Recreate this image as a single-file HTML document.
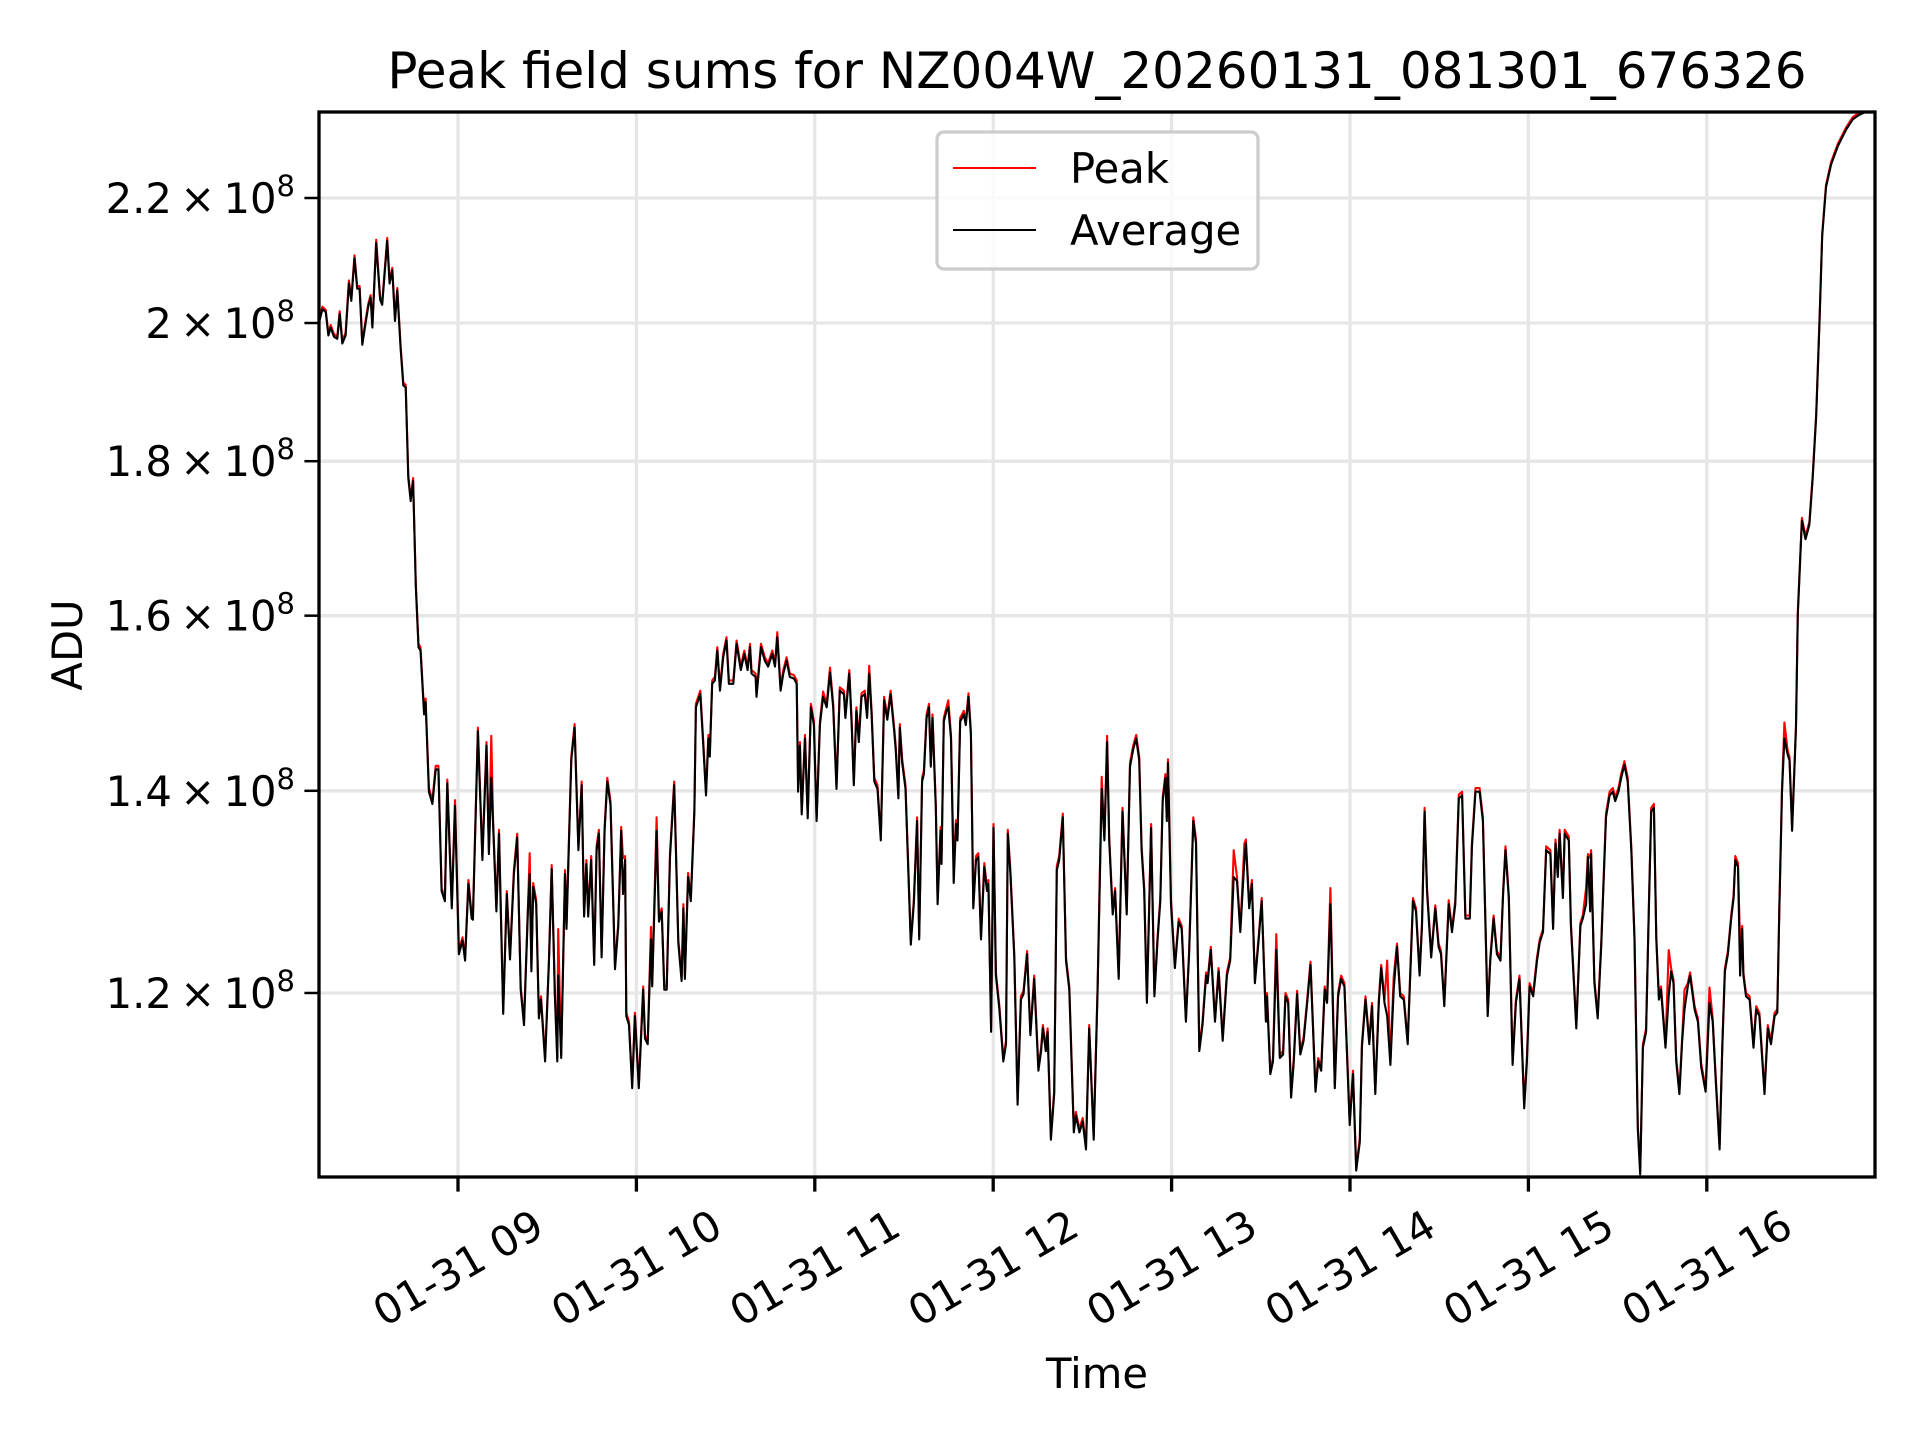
<!DOCTYPE html>
<html><head><meta charset="utf-8"><title>Peak field sums</title>
<style>html,body{margin:0;padding:0;background:#fff}svg{display:block}text{font-family:"DejaVu Sans","Liberation Sans",sans-serif;fill:#000}</style>
</head><body>
<svg id="chart" width="1920" height="1440" viewBox="0 0 1920 1440" xmlns="http://www.w3.org/2000/svg">
<rect width="1920" height="1440" fill="#fff"/>
<defs><clipPath id="plotclip"><rect x="319" y="112" width="1556" height="1065"/></clipPath></defs>
<g id="grid"></g>
<g id="series" clip-path="url(#plotclip)"></g>
<rect x="319" y="112" width="1556" height="1065" fill="none" stroke="#000" stroke-width="3.3"/>
<g id="ticks"></g>
<text x="1097" y="88" font-size="50" text-anchor="middle">Peak field sums for NZ004W_20260131_081301_676326</text>
<text x="1097" y="1388" font-size="41.7" text-anchor="middle">Time</text>
<text x="0" y="0" font-size="41.7" text-anchor="middle" transform="translate(82,645) rotate(-90)">ADU</text>
<g>
<rect x="937" y="132" width="321" height="137" rx="7" fill="#fff" fill-opacity="0.8" stroke="#cccccc" stroke-width="3.3"/>
<line x1="953" y1="168" x2="1036" y2="168" stroke="#ff0000" stroke-width="2.1"/>
<text x="1070" y="183" font-size="41.7">Peak</text>
<line x1="953" y1="230" x2="1036" y2="230" stroke="#000" stroke-width="2.1"/>
<text x="1070" y="245" font-size="41.7">Average</text>
</g>
</svg>
<script>
// time in minutes after 08:00 on 01-31
const timesMin = [13.3,14.4,15.5,16.4,17.2,18.3,19.4,20.2,21.1,22.2,23.3,24.1,25.2,26.1,26.9,27.8,28.9,29.8,30.6,31.2,32.5,33.8,34.5,36.2,37.0,37.9,38.8,39.6,40.7,41.6,42.4,43.3,44.1,44.9,45.8,46.7,47.4,48.6,49.1,50.2,51.4,52.5,53.4,54.5,55.6,56.4,57.9,59.0,60.3,61.5,62.4,63.5,64.6,65.0,66.7,68.2,69.6,70.4,71.2,71.8,72.9,73.8,75.2,76.4,77.5,78.8,79.9,81.1,82.2,83.5,84.1,84.7,85.3,86.3,87.2,87.9,89.3,90.6,91.5,92.6,93.4,93.7,94.7,96.0,96.5,98.1,99.2,100.5,101.6,102.4,103.2,103.8,104.8,105.8,106.6,107.4,108.3,109.3,110.2,111.3,112.8,113.9,114.9,115.5,116.2,116.6,117.5,118.6,
119.5,120.8,122.3,122.9,123.8,124.9,125.3,126.8,127.6,128.5,129.4,130.2,131.3,132.7,134.1,135.2,135.8,136.3,137.4,138.3,139.5,140.0,141.5,142.5,143.4,144.2,144.7,145.5,146.4,147.2,148.1,149.2,150.3,151.1,152.6,153.7,155.1,156.3,157.4,158.2,158.7,160.1,160.4,161.9,163.2,164.3,165.7,166.6,167.4,168.5,169.4,170.5,171.6,173.0,173.9,174.4,175.0,175.6,176.7,177.6,178.7,179.7,180.6,181.7,182.8,184.0,185.1,186.2,187.3,188.4,189.8,190.3,191.6,192.4,193.1,194.0,194.8,195.7,196.8,197.6,198.3,199.1,200.0,201.1,202.2,203.3,204.4,205.5,206.7,207.2,208.1,208.6,209.4,210.5,211.2,212.3,213.3,214.4,215.1,216.1,216.7,217.6,218.4,219.0,219.6,220.7,221.3,222.3,222.6,223.4,224.3,224.9,
225.8,226.7,227.5,228.0,228.9,230.1,230.8,231.7,232.5,233.3,234.2,235.0,235.9,237.0,237.9,238.4,239.3,240.1,240.9,242.1,243.4,244.3,244.9,245.8,247.1,248.2,249.3,250.2,251.4,252.5,253.8,255.2,256.1,256.7,257.7,258.3,259.4,260.5,261.4,262.2,263.4,264.5,265.6,267.1,267.8,269.0,270.1,271.2,272.3,273.8,275.1,276.5,277.4,278.3,279.0,280.2,281.0,282.2,283.5,284.9,286.0,287.1,288.1,289.1,289.9,290.8,291.7,293.1,294.2,295.3,296.2,297.0,297.9,298.4,298.8,299.8,301.1,302.4,303.4,304.8,305.9,307.3,308.2,309.3,310.4,311.6,312.1,313.2,314.6,315.8,317.2,318.6,319.7,320.9,322.0,323.1,324.5,325.0,326.1,327.0,328.0,329.3,330.3,331.7,
332.1,333.2,334.1,335.2,336.4,337.5,338.3,339.2,340.2,341.1,342.2,343.3,344.4,345.6,346.7,348.4,349.3,350.3,351.5,352.3,353.4,354.9,356.0,357.0,358.1,359.9,361.0,362.1,363.3,364.0,365.2,366.5,367.4,368.5,369.7,370.5,371.6,372.5,373.6,374.7,375.8,376.9,378.1,379.4,381.2,382.2,383.4,384.2,385.1,385.9,387.3,388.7,389.8,390.6,391.7,393.2,394.3,395.4,396.6,397.7,398.8,400.3,401.0,402.2,403.6,404.7,406.3,407.2,408.3,409.4,410.6,411.5,412.3,413.4,414.7,415.8,417.0,418.6,419.5,420.4,421.6,422.9,423.8,424.9,426.0,427.4,428.3,429.1,429.9,430.5,431.6,432.2,433.6,434.3,436.1,437.5,
438.3,439.4,440.0,440.8,441.1,442.2,443.3,444.5,446.1,447.3,448.4,449.2,450.3,451.2,452.3,453.4,454.6,455.7,456.8,457.6,458.5,459.6,460.5,461.3,462.2,463.0,463.9,464.6,466.1,467.2,468.0,468.8,469.7,470.8,471.7,472.5,473.6,474.4,475.9,477.0,478.1,479.6,480.9,482.0,482.9,484.3,485.2,486.1,487.1,488.2,489.0,489.6,490.5,491.2,491.9,492.3,493.2,494.4,495.7,496.6,497.7,499.4,500.5,501.6,502.8,503.7,504.4,505.3,506.1,507.2,507.8,508.7,510.0,510.6,512.0,513.2,514.5,515.6,516.8,517.9,518.8,520.1,521.8,524.1,526.9,529.1,531.3,535.8];
// average ADU in units of 1e8
const averageVals = [2.001,2.021,2.017,1.981,1.993,1.979,1.976,2.014,1.969,1.981,2.061,2.034,2.101,2.053,2.053,1.967,1.999,2.025,2.039,1.993,2.126,2.036,2.028,2.129,2.061,2.082,2.003,2.050,1.962,1.907,1.904,1.777,1.746,1.773,1.636,1.562,1.558,1.484,1.498,1.399,1.386,1.423,1.423,1.297,1.287,1.408,1.280,1.384,1.236,1.249,1.230,1.304,1.270,1.269,1.465,1.328,1.449,1.334,1.414,1.365,1.277,1.355,1.181,1.294,1.231,1.314,1.351,1.203,1.171,1.277,1.314,1.220,1.301,1.284,1.177,1.194,1.139,1.230,1.319,1.197,1.139,1.216,1.142,1.314,1.260,1.433,1.469,1.338,1.406,1.272,1.324,1.272,1.328,1.226,1.338,1.355,1.233,1.358,1.410,1.385,1.222,1.263,1.358,1.294,1.328,1.179,1.171,1.116,
1.179,1.116,1.203,1.159,1.154,1.250,1.206,1.358,1.267,1.277,1.203,1.203,1.331,1.406,1.247,1.211,1.280,1.213,1.311,1.287,1.378,1.492,1.507,1.449,1.395,1.457,1.437,1.519,1.523,1.558,1.511,1.550,1.570,1.519,1.519,1.566,1.535,1.554,1.535,1.562,1.531,1.527,1.504,1.562,1.546,1.539,1.554,1.539,1.574,1.511,1.531,1.546,1.527,1.525,1.519,1.399,1.449,1.375,1.457,1.371,1.492,1.472,1.368,1.472,1.504,1.492,1.532,1.492,1.402,1.511,1.507,1.480,1.531,1.472,1.406,1.488,1.453,1.504,1.507,1.480,1.531,1.484,1.410,1.402,1.348,1.500,1.478,1.507,1.465,1.445,1.392,1.469,1.430,1.402,1.338,1.245,1.284,1.368,1.250,1.410,1.418,1.480,1.492,1.426,1.480,1.382,1.284,1.358,1.324,1.476,1.488,1.492,
1.457,1.305,1.365,1.348,1.476,1.484,1.472,1.504,1.461,1.280,1.328,1.331,1.250,1.321,1.297,1.304,1.165,1.361,1.216,1.185,1.139,1.154,1.355,1.314,1.233,1.102,1.194,1.199,1.236,1.162,1.213,1.131,1.148,1.168,1.148,1.165,1.073,1.111,1.318,1.328,1.372,1.230,1.203,1.079,1.093,1.079,1.088,1.065,1.168,1.073,1.203,1.402,1.348,1.453,1.348,1.274,1.297,1.213,1.378,1.274,1.426,1.445,1.457,1.433,1.338,1.297,1.191,1.361,1.197,1.250,1.287,1.389,1.414,1.368,1.430,1.284,1.223,1.267,1.260,1.174,1.236,1.368,1.345,1.148,1.171,1.216,1.209,1.240,1.174,1.220,1.157,1.216,1.230,1.311,1.307,1.257,1.328,1.345,1.280,1.304,1.209,1.250,1.287,1.174,
1.197,1.128,1.139,1.240,1.142,1.145,1.197,1.191,1.108,1.139,1.199,1.145,1.157,1.191,1.226,1.113,1.139,1.131,1.203,1.191,1.284,1.116,1.197,1.213,1.206,1.085,1.128,1.048,1.071,1.151,1.194,1.154,1.188,1.111,1.191,1.223,1.191,1.179,1.136,1.203,1.243,1.197,1.194,1.154,1.287,1.277,1.216,1.263,1.378,1.297,1.233,1.280,1.243,1.236,1.188,1.284,1.257,1.284,1.392,1.395,1.270,1.270,1.341,1.399,1.399,1.368,1.179,1.230,1.270,1.236,1.230,1.294,1.338,1.290,1.136,1.191,1.213,1.099,1.139,1.206,1.197,1.230,1.247,1.257,1.338,1.334,1.260,1.345,1.311,1.355,1.290,1.355,1.348,1.263,1.168,1.263,
1.270,1.284,1.331,1.277,1.334,1.209,1.177,1.243,1.372,1.395,1.399,1.389,1.399,1.414,1.428,1.410,1.338,1.250,1.082,1.045,1.151,1.165,1.277,1.378,1.382,1.250,1.194,1.203,1.151,1.197,1.220,1.209,1.139,1.111,1.156,1.185,1.206,1.216,1.185,1.174,1.134,1.113,1.191,1.174,1.128,1.065,1.151,1.220,1.236,1.270,1.290,1.328,1.321,1.216,1.260,1.216,1.197,1.194,1.151,1.185,1.179,1.111,1.168,1.154,1.179,1.182,1.277,1.399,1.457,1.439,1.433,1.358,1.469,1.601,1.720,1.696,1.715,1.777,1.863,2.001,2.137,2.218,2.257,2.289,2.318,2.336,2.344,2.355];
// peak ADU in units of 1e8
const peakVals = [2.005,2.025,2.020,1.985,1.997,1.983,1.980,2.018,1.973,1.985,2.066,2.038,2.106,2.057,2.057,1.971,2.003,2.029,2.043,1.997,2.131,2.040,2.032,2.134,2.065,2.086,2.007,2.054,1.966,1.911,1.908,1.781,1.750,1.777,1.640,1.566,1.562,1.488,1.502,1.403,1.390,1.427,1.427,1.300,1.290,1.412,1.283,1.390,1.239,1.252,1.233,1.308,1.273,1.272,1.469,1.332,1.453,1.338,1.460,1.368,1.280,1.359,1.184,1.297,1.234,1.318,1.355,1.206,1.174,1.281,1.335,1.223,1.305,1.288,1.180,1.197,1.142,1.233,1.323,1.200,1.142,1.260,1.145,1.318,1.264,1.437,1.473,1.342,1.410,1.275,1.328,1.275,1.332,1.229,1.342,1.359,1.236,1.362,1.414,1.389,1.225,1.266,1.362,1.330,1.332,1.182,1.174,1.119,
1.182,1.119,1.206,1.162,1.157,1.262,1.209,1.372,1.270,1.280,1.206,1.206,1.335,1.410,1.250,1.214,1.284,1.216,1.315,1.290,1.382,1.496,1.511,1.453,1.399,1.461,1.441,1.523,1.527,1.562,1.515,1.554,1.574,1.523,1.523,1.570,1.539,1.558,1.539,1.566,1.535,1.531,1.508,1.566,1.550,1.543,1.558,1.543,1.580,1.515,1.535,1.550,1.531,1.529,1.523,1.410,1.453,1.379,1.461,1.375,1.496,1.476,1.372,1.476,1.510,1.496,1.538,1.496,1.406,1.515,1.511,1.484,1.535,1.476,1.410,1.492,1.457,1.508,1.511,1.484,1.540,1.488,1.414,1.406,1.352,1.504,1.482,1.511,1.469,1.449,1.396,1.473,1.434,1.406,1.342,1.249,1.288,1.372,1.253,1.414,1.422,1.484,1.496,1.430,1.484,1.386,1.288,1.362,1.328,1.480,1.492,1.500,
1.461,1.320,1.369,1.352,1.480,1.488,1.476,1.508,1.465,1.283,1.332,1.335,1.253,1.325,1.300,1.308,1.168,1.365,1.219,1.188,1.142,1.157,1.359,1.318,1.236,1.105,1.197,1.202,1.239,1.165,1.216,1.134,1.151,1.171,1.151,1.168,1.076,1.114,1.322,1.332,1.376,1.233,1.206,1.082,1.096,1.082,1.091,1.068,1.171,1.076,1.206,1.415,1.352,1.460,1.352,1.277,1.300,1.216,1.382,1.277,1.430,1.449,1.461,1.437,1.342,1.300,1.194,1.365,1.200,1.253,1.290,1.393,1.418,1.372,1.434,1.288,1.226,1.270,1.263,1.177,1.239,1.372,1.349,1.151,1.174,1.219,1.212,1.243,1.177,1.223,1.160,1.219,1.233,1.338,1.311,1.260,1.345,1.349,1.283,1.308,1.212,1.253,1.290,1.177,
1.200,1.131,1.142,1.255,1.145,1.148,1.200,1.194,1.111,1.142,1.202,1.148,1.160,1.194,1.229,1.116,1.142,1.134,1.206,1.194,1.300,1.119,1.200,1.216,1.209,1.088,1.131,1.051,1.074,1.154,1.197,1.157,1.191,1.114,1.194,1.226,1.194,1.230,1.139,1.215,1.246,1.200,1.197,1.157,1.290,1.280,1.219,1.266,1.382,1.300,1.236,1.283,1.246,1.239,1.191,1.288,1.260,1.288,1.396,1.399,1.273,1.273,1.345,1.403,1.403,1.372,1.182,1.233,1.273,1.239,1.233,1.297,1.342,1.293,1.139,1.194,1.216,1.102,1.142,1.209,1.200,1.233,1.250,1.260,1.342,1.338,1.263,1.349,1.315,1.359,1.293,1.359,1.352,1.266,1.171,1.266,
1.273,1.300,1.334,1.330,1.338,1.212,1.180,1.246,1.376,1.399,1.403,1.393,1.403,1.418,1.432,1.414,1.342,1.253,1.085,1.048,1.154,1.168,1.280,1.382,1.386,1.253,1.197,1.206,1.154,1.240,1.223,1.212,1.142,1.114,1.159,1.203,1.209,1.219,1.188,1.177,1.137,1.116,1.205,1.177,1.131,1.068,1.154,1.223,1.239,1.273,1.293,1.332,1.325,1.245,1.263,1.219,1.200,1.197,1.154,1.188,1.182,1.114,1.171,1.157,1.182,1.185,1.280,1.403,1.475,1.443,1.437,1.362,1.473,1.605,1.724,1.700,1.719,1.781,1.867,2.005,2.141,2.222,2.261,2.293,2.322,2.340,2.348,2.359];
const xTickHours = [9,10,11,12,13,14,15,16];
const xTickLabels = ["01-31 09","01-31 10","01-31 11","01-31 12","01-31 13","01-31 14","01-31 15","01-31 16"];
const yTickVals = [1.2,1.4,1.6,1.8,2.0,2.2];
const yTickMant = ["1.2","1.4","1.6","1.8","2","2.2"];

const NS = "http://www.w3.org/2000/svg";
const X0 = 319, X1 = 1875, Y0 = 112, Y1 = 1177;
function xScale(min){ return 458 + (min - 60) * 178.4 / 60; }
function yScale(v){ return 323 - 3020 * Math.log10(v / 2.0); }

const grid = document.getElementById('grid');
const ticks = document.getElementById('ticks');
const series = document.getElementById('series');

xTickHours.forEach((h, i) => {
  const x = xScale((h - 8) * 60);
  const gl = document.createElementNS(NS, 'line');
  gl.setAttribute('x1', x); gl.setAttribute('x2', x); gl.setAttribute('y1', Y0); gl.setAttribute('y2', Y1);
  gl.setAttribute('stroke', '#e6e6e6'); gl.setAttribute('stroke-width', '3.3');
  
  
  grid.appendChild(gl);
  const tk = document.createElementNS(NS, 'line');
  tk.setAttribute('x1', x); tk.setAttribute('x2', x); tk.setAttribute('y1', Y1); tk.setAttribute('y2', Y1 + 14.6);
  tk.setAttribute('stroke', '#000'); tk.setAttribute('stroke-width', '3.3');
  
  
  ticks.appendChild(tk);
  const t = document.createElementNS(NS, 'text');
  t.setAttribute('x', x); t.setAttribute('y', 1268);
  t.setAttribute('font-size', '41.7'); t.setAttribute('text-anchor', 'middle'); t.setAttribute('dominant-baseline', 'central');
  t.setAttribute('transform', 'rotate(-30 ' + x + ' 1268)');
  t.textContent = xTickLabels[i];
  
  
  ticks.appendChild(t);
});

yTickVals.forEach((v, i) => {
  const y = yScale(v);
  const gl = document.createElementNS(NS, 'line');
  gl.setAttribute('x1', X0); gl.setAttribute('x2', X1); gl.setAttribute('y1', y); gl.setAttribute('y2', y);
  gl.setAttribute('stroke', '#e6e6e6'); gl.setAttribute('stroke-width', '3.3');
  
  
  grid.appendChild(gl);
  const tk = document.createElementNS(NS, 'line');
  tk.setAttribute('x1', X0 - 14.6); tk.setAttribute('x2', X0); tk.setAttribute('y1', y); tk.setAttribute('y2', y);
  tk.setAttribute('stroke', '#000'); tk.setAttribute('stroke-width', '2.5');
  
  
  ticks.appendChild(tk);
  const t = document.createElementNS(NS, 'text');
  t.setAttribute('x', 295); t.setAttribute('y', y + 15);
  t.setAttribute('font-size', '41.7'); t.setAttribute('text-anchor', 'end');
  const a = document.createElementNS(NS, 'tspan');
  a.textContent = yTickMant[i] + '\u2009\u00d7\u200910';
  const b = document.createElementNS(NS, 'tspan');
  b.setAttribute('dy', '-17'); b.setAttribute('font-size', '29');
  b.textContent = '8';
  t.appendChild(a); t.appendChild(b);
  
  
  ticks.appendChild(t);
});

function buildPath(vals){
  let d = '';
  for (let i = 0; i < timesMin.length; i++) {
    d += (i ? 'L' : 'M') + xScale(timesMin[i]).toFixed(1) + ' ' + yScale(vals[i] * 1.0).toFixed(1);
  }
  return d;
}
const peakPath = document.createElementNS(NS, 'path');
peakPath.setAttribute('d', buildPath(peakVals));
peakPath.setAttribute('fill', 'none'); peakPath.setAttribute('stroke', '#ff0000'); peakPath.setAttribute('stroke-width', '2.1');
peakPath.setAttribute('stroke-linejoin', 'round');


series.appendChild(peakPath);
const avgPath = document.createElementNS(NS, 'path');
avgPath.setAttribute('d', buildPath(averageVals));
avgPath.setAttribute('fill', 'none'); avgPath.setAttribute('stroke', '#000'); avgPath.setAttribute('stroke-width', '2.1');
avgPath.setAttribute('stroke-linejoin', 'round');


series.appendChild(avgPath);
</script>
</body></html>
